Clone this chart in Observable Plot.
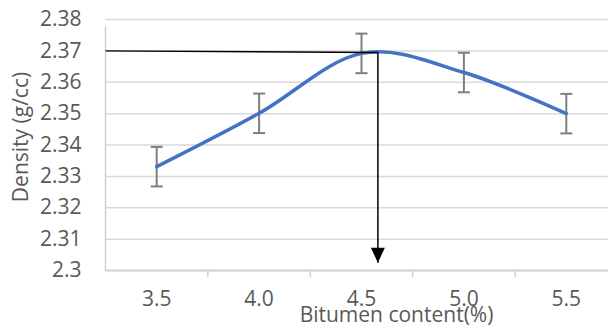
<!DOCTYPE html>
<html>
<head>
<meta charset="utf-8">
<script src="https://cdn.jsdelivr.net/npm/d3@7"></script>
<script src="https://cdn.jsdelivr.net/npm/@observablehq/plot@0.6"></script>
<style>
  html, body { margin: 0; padding: 0; background: #fff; overflow: hidden; width: 608px; height: 332px; }
  #chart svg { display: block; max-width: none !important; }
</style>
</head>
<body>
<div id="chart"></div>
<script>
// Data
const bitumen = [3.5, 4.0, 4.5, 5.0, 5.5];
const density = [2.3331, 2.3501, 2.3692, 2.3631, 2.3500];
const errorHalf = [0.0063, 0.0063, 0.0063, 0.0063, 0.0063];
const xTickLabels = ["3.5", "4.0", "4.5", "5.0", "5.5"];
const xBoundaries = [3.25, 3.75, 4.25, 4.75, 5.25, 5.75];
const yTicks = [2.30, 2.31, 2.32, 2.33, 2.34, 2.35, 2.36, 2.37, 2.38];
const yTickLabels = ["2.3", "2.31", "2.32", "2.33", "2.34", "2.35", "2.36", "2.37", "2.38"];
// Optimum guide: horizontal line from axis to optimum, then arrow down
const guideStart = [{x: 3.25, y: 2.3700}];
const optimum = [{x: 4.58, y: 2.3695}];
const arrowTip = [{x: 4.58, y: 2.3025}];

const rows = bitumen.map((b, i) => ({b, d: density[i], lo: density[i] - errorHalf[i], hi: density[i] + errorHalf[i]}));

const font = "'Open Sans', 'Noto Sans', sans-serif";
const grey = "#595959";
const fs = 21;

const downTriangle = {
  draw(ctx) { ctx.moveTo(-7, -15); ctx.lineTo(7, -15); ctx.lineTo(0, 0); ctx.closePath(); }
};
const capSymbol = {
  draw(ctx) { ctx.moveTo(-6, 0); ctx.lineTo(6, 0); }
};

const chart = Plot.plot({
  width: 620,
  height: 332,
  marginLeft: 105,
  marginRight: 3,
  marginTop: 19,
  marginBottom: 62,
  style: {fontFamily: font, background: "#fff", overflow: "visible", maxWidth: "none"},
  x: {domain: [3.25, 5.75], axis: null},
  y: {domain: [2.30, 2.38], axis: null},
  marks: [
    // gridlines
    Plot.ruleY(yTicks.slice(1), {stroke: "#d9d9d9", strokeWidth: 1.5}),
    // left axis line
    Plot.ruleX([3.25], {y1: 2.30, y2: 2.38, stroke: "#d0d0d0", strokeWidth: 1.5, insetBottom: -7}),
    // bottom axis line
    Plot.ruleY([2.30], {stroke: "#d0d0d0", strokeWidth: 2}),
    // category tick marks
    Plot.ruleX(xBoundaries.slice(1, -1), {x: d => d, y1: 2.30, y2: 2.30, stroke: "#d0d0d0", strokeWidth: 1.5, insetBottom: -7}),
    // y tick labels
    Plot.text(yTicks, {x: 3.25, y: d => d, text: (d, i) => yTickLabels[i], textAnchor: "end", dx: -24, fill: grey, fontSize: fs}),
    // x tick labels
    Plot.text(bitumen, {x: d => d, y: 2.30, text: (d, i) => xTickLabels[i], dy: 29, fill: grey, fontSize: fs}),
    // error bars
    Plot.ruleX(rows, {x: "b", y1: "lo", y2: "hi", stroke: "#7f7f7f", strokeWidth: 2}),
    Plot.dot(rows, {x: "b", y: "lo", symbol: capSymbol, stroke: "#7f7f7f", strokeWidth: 2, r: 6}),
    Plot.dot(rows, {x: "b", y: "hi", symbol: capSymbol, stroke: "#7f7f7f", strokeWidth: 2, r: 6}),
    // smoothed line
    Plot.line(rows, {x: "b", y: "d", curve: "cardinal", stroke: "#4472c4", strokeWidth: 3.5, strokeLinecap: "round"}),
    // guide lines
    Plot.link(guideStart, {x1: "x", y1: "y", x2: () => optimum[0].x, y2: () => optimum[0].y, stroke: "#000", strokeWidth: 1.5}),
    Plot.link(optimum, {x1: "x", y1: "y", x2: () => arrowTip[0].x, y2: () => arrowTip[0].y, stroke: "#000", strokeWidth: 1.5}),
    Plot.dot(arrowTip, {x: "x", y: "y", symbol: downTriangle, fill: "#000", stroke: "none", r: 8}),
    // axis titles
    Plot.text(["Density (g/cc)"], {frameAnchor: "left", textAnchor: "middle", text: d => d, rotate: -90, dx: -84, dy: -8, fill: grey, fontSize: fs}),
    Plot.text(["Bitumen content(%)"], {frameAnchor: "bottom", textAnchor: "middle", text: d => d, dx: 35, dy: 51, fill: grey, fontSize: fs})
  ]
});
document.getElementById("chart").append(chart);
</script>
</body>
</html>
